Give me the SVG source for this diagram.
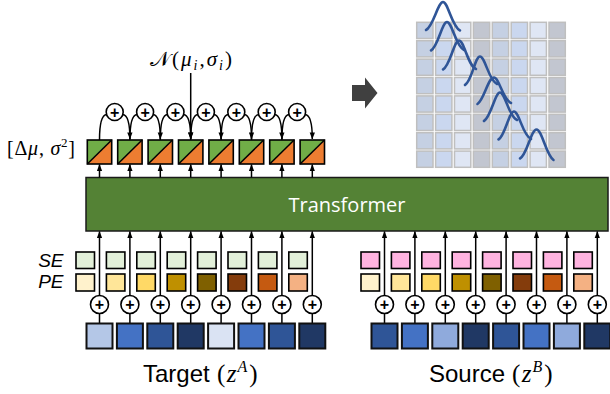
<svg xmlns="http://www.w3.org/2000/svg" xmlns:xlink="http://www.w3.org/1999/xlink" width="610" height="394" viewBox="0 0 610 394">
<style>
.ln{fill:none;stroke:#000;stroke-width:1.5}
.arr{fill:none;stroke:#000;stroke-width:1.5;marker-end:url(#ah)}
.bx{stroke:#000;stroke-width:1.6}
.bb{stroke:#111;stroke-width:2}
.cir{fill:#fff;stroke:#000;stroke-width:1.6}
.plus{font-family:"Liberation Sans",Arial,sans-serif;font-size:16px;font-weight:bold;text-anchor:middle;fill:#000}
.math{font-family:"Liberation Serif","DejaVu Serif",serif;fill:#000}
.sans{font-family:"Liberation Sans",Arial,sans-serif;fill:#000}
.gs{fill:none;stroke:#2F5597;stroke-width:2.6;stroke-linecap:round}
.cell{stroke:#BFBFBF;stroke-width:1.5}
.g0{fill:#C5D0E3}.g1{fill:#CAD7EF}.g2{fill:#DFE6F4}.g3{fill:#C2C6D0}
.se{fill:#E2F0D9}.sp{fill:#FFB3E0}
</style>
<defs>
<marker id="ah" viewBox="0 0 8 6" refX="7.5" refY="3" markerWidth="7" markerHeight="6" markerUnits="userSpaceOnUse" orient="auto"><path d="M0,0 L8,3 L0,6 z" fill="#000"/></marker>
<g id="gridrow">
<rect class="cell g0" x="416.7" y="0" width="16.3" height="16.2"/>
<rect class="cell g1" x="435.6" y="0" width="16.3" height="16.2"/>
<rect class="cell g2" x="454.5" y="0" width="16.3" height="16.2"/>
<rect class="cell g3" x="473.4" y="0" width="16.3" height="16.2"/>
<rect class="cell g0" x="492.3" y="0" width="16.3" height="16.2"/>
<rect class="cell g1" x="511.2" y="0" width="16.3" height="16.2"/>
<rect class="cell g2" x="530.1" y="0" width="16.3" height="16.2"/>
<rect class="cell g3" x="549.0" y="0" width="16.3" height="16.2"/>
</g>
</defs>

<!-- Transformer -->
<g id="transformer">
<rect x="86" y="177.5" width="522" height="53.5" fill="#548235" stroke="#1a1a1a" stroke-width="1.5"/>
<text x="347" y="211.5" font-family="'Open Sans','Noto Sans',sans-serif" font-size="20" fill="#fff" text-anchor="middle">Transformer</text>
</g>

<!-- connectors -->
<g id="connectors">
<path class="arr" d="M190.7,73 L190.7,139"/>
<path class="ln" d="M99.5,140 Q99.5,115 106.7,114.5"/>
<path class="arr" d="M122.7,114.5 Q129.9,115 129.9,139"/>
<path class="ln" d="M129.9,140 Q129.9,115 137.1,114.5"/>
<path class="arr" d="M153.1,114.5 Q160.3,115 160.3,139"/>
<path class="ln" d="M160.3,140 Q160.3,115 167.5,114.5"/>
<path class="arr" d="M183.5,114.5 Q190.7,115 190.7,139"/>
<path class="ln" d="M190.7,140 Q190.7,115 197.9,114.5"/>
<path class="arr" d="M213.9,114.5 Q221.1,115 221.1,139"/>
<path class="ln" d="M221.1,140 Q221.1,115 228.3,114.5"/>
<path class="arr" d="M244.3,114.5 Q251.5,115 251.5,139"/>
<path class="ln" d="M251.5,140 Q251.5,115 258.7,114.5"/>
<path class="arr" d="M274.7,114.5 Q281.9,115 281.9,139"/>
<path class="ln" d="M281.9,140 Q281.9,115 289.1,114.5"/>
<path class="arr" d="M305.1,114.5 Q312.3,115 312.3,139"/>
<path class="arr" d="M99.5,177.5 V164.5"/>
<path class="arr" d="M129.9,177.5 V164.5"/>
<path class="arr" d="M160.3,177.5 V164.5"/>
<path class="arr" d="M190.7,177.5 V164.5"/>
<path class="arr" d="M221.1,177.5 V164.5"/>
<path class="arr" d="M251.5,177.5 V164.5"/>
<path class="arr" d="M281.9,177.5 V164.5"/>
<path class="arr" d="M312.3,177.5 V164.5"/>
<path class="arr" d="M99.5,295.5 V231.5"/>
<path class="arr" d="M129.9,295.5 V231.5"/>
<path class="arr" d="M160.3,295.5 V231.5"/>
<path class="arr" d="M190.7,295.5 V231.5"/>
<path class="arr" d="M221.1,295.5 V231.5"/>
<path class="arr" d="M251.5,295.5 V231.5"/>
<path class="arr" d="M281.9,295.5 V231.5"/>
<path class="arr" d="M312.3,295.5 V231.5"/>
<path class="arr" d="M384.5,295.5 V231.5"/>
<path class="arr" d="M414.9,295.5 V231.5"/>
<path class="arr" d="M445.3,295.5 V231.5"/>
<path class="arr" d="M475.7,295.5 V231.5"/>
<path class="arr" d="M506.1,295.5 V231.5"/>
<path class="arr" d="M536.5,295.5 V231.5"/>
<path class="arr" d="M566.9,295.5 V231.5"/>
<path class="arr" d="M597.3,295.5 V231.5"/>
<path class="ln" d="M99.5,313 V323.5 M129.9,313 V323.5 M160.3,313 V323.5 M190.7,313 V323.5 M221.1,313 V323.5 M251.5,313 V323.5 M281.9,313 V323.5 M312.3,313 V323.5"/>
<path class="ln" d="M384.5,313 V323.5 M414.9,313 V323.5 M445.3,313 V323.5 M475.7,313 V323.5 M506.1,313 V323.5 M536.5,313 V323.5 M566.9,313 V323.5 M597.3,313 V323.5"/>
</g>

<!-- labels -->
<text class="math" x="150" y="66" font-size="21" textLength="82" lengthAdjust="spacing">𝒩(<tspan font-style="italic">μ</tspan><tspan font-size="14" font-style="italic" dy="4">i</tspan><tspan dy="-4">,</tspan><tspan font-style="italic">σ</tspan><tspan font-size="14" font-style="italic" dy="4">i</tspan><tspan dy="-4">)</tspan></text>
<text class="math" x="7" y="155" font-size="20" textLength="68" lengthAdjust="spacing">[Δ<tspan font-style="italic">μ</tspan>, <tspan font-style="italic">σ</tspan><tspan font-size="13" dy="-8">2</tspan><tspan dy="8">]</tspan></text>
<text class="sans" x="63.5" y="267" font-size="19" font-style="italic" text-anchor="end">SE</text>
<text class="sans" x="63.5" y="288" font-size="19" font-style="italic" text-anchor="end">PE</text>
<text class="sans" x="143" y="382" font-size="24">Target</text>
<text class="math" x="217" y="382" font-size="25">(<tspan font-style="italic" dx="1.5">z</tspan><tspan font-size="16" font-style="italic" dy="-10" dx="1">A</tspan><tspan dy="10" dx="2">)</tspan></text>
<text class="sans" x="429" y="382" font-size="24">Source</text>
<text class="math" x="512" y="382" font-size="25">(<tspan font-style="italic" dx="1.5">z</tspan><tspan font-size="16" font-style="italic" dy="-10" dx="1">B</tspan><tspan dy="10" dx="2">)</tspan></text>

<!-- top summation nodes -->
<g id="acc-1"><circle class="cir" cx="114.7" cy="112" r="8.5"/><text class="plus" x="114.7" y="117.6">+</text></g>
<g id="acc-2"><circle class="cir" cx="145.1" cy="112" r="8.5"/><text class="plus" x="145.1" y="117.6">+</text></g>
<g id="acc-3"><circle class="cir" cx="175.5" cy="112" r="8.5"/><text class="plus" x="175.5" y="117.6">+</text></g>
<g id="acc-4"><circle class="cir" cx="205.9" cy="112" r="8.5"/><text class="plus" x="205.9" y="117.6">+</text></g>
<g id="acc-5"><circle class="cir" cx="236.3" cy="112" r="8.5"/><text class="plus" x="236.3" y="117.6">+</text></g>
<g id="acc-6"><circle class="cir" cx="266.7" cy="112" r="8.5"/><text class="plus" x="266.7" y="117.6">+</text></g>
<g id="acc-7"><circle class="cir" cx="297.1" cy="112" r="8.5"/><text class="plus" x="297.1" y="117.6">+</text></g>

<!-- output boxes -->
<g id="out-1"><polygon points="87.3,140 111.7,140 87.3,164" fill="#70AD47"/><polygon points="111.7,140 111.7,164 87.3,164" fill="#ED7D31"/><rect class="bx" x="87.3" y="140" width="24.4" height="24" fill="none"/><path class="ln" d="M87.3,164 L111.7,140" stroke-width="2"/></g>
<g id="out-2"><polygon points="117.7,140 142.1,140 117.7,164" fill="#70AD47"/><polygon points="142.1,140 142.1,164 117.7,164" fill="#ED7D31"/><rect class="bx" x="117.7" y="140" width="24.4" height="24" fill="none"/><path class="ln" d="M117.7,164 L142.1,140" stroke-width="2"/></g>
<g id="out-3"><polygon points="148.1,140 172.5,140 148.1,164" fill="#70AD47"/><polygon points="172.5,140 172.5,164 148.1,164" fill="#ED7D31"/><rect class="bx" x="148.1" y="140" width="24.4" height="24" fill="none"/><path class="ln" d="M148.1,164 L172.5,140" stroke-width="2"/></g>
<g id="out-4"><polygon points="178.5,140 202.9,140 178.5,164" fill="#70AD47"/><polygon points="202.9,140 202.9,164 178.5,164" fill="#ED7D31"/><rect class="bx" x="178.5" y="140" width="24.4" height="24" fill="none"/><path class="ln" d="M178.5,164 L202.9,140" stroke-width="2"/></g>
<g id="out-5"><polygon points="208.9,140 233.3,140 208.9,164" fill="#70AD47"/><polygon points="233.3,140 233.3,164 208.9,164" fill="#ED7D31"/><rect class="bx" x="208.9" y="140" width="24.4" height="24" fill="none"/><path class="ln" d="M208.9,164 L233.3,140" stroke-width="2"/></g>
<g id="out-6"><polygon points="239.3,140 263.7,140 239.3,164" fill="#70AD47"/><polygon points="263.7,140 263.7,164 239.3,164" fill="#ED7D31"/><rect class="bx" x="239.3" y="140" width="24.4" height="24" fill="none"/><path class="ln" d="M239.3,164 L263.7,140" stroke-width="2"/></g>
<g id="out-7"><polygon points="269.7,140 294.1,140 269.7,164" fill="#70AD47"/><polygon points="294.1,140 294.1,164 269.7,164" fill="#ED7D31"/><rect class="bx" x="269.7" y="140" width="24.4" height="24" fill="none"/><path class="ln" d="M269.7,164 L294.1,140" stroke-width="2"/></g>
<g id="out-8"><polygon points="300.1,140 324.5,140 300.1,164" fill="#70AD47"/><polygon points="324.5,140 324.5,164 300.1,164" fill="#ED7D31"/><rect class="bx" x="300.1" y="140" width="24.4" height="24" fill="none"/><path class="ln" d="M300.1,164 L324.5,140" stroke-width="2"/></g>

<!-- target embeddings -->
<g id="target-se">
<rect class="bx se" x="76" y="252" width="18.5" height="16.5"/>
<rect class="bx se" x="106.4" y="252" width="18.5" height="16.5"/>
<rect class="bx se" x="136.8" y="252" width="18.5" height="16.5"/>
<rect class="bx se" x="167.2" y="252" width="18.5" height="16.5"/>
<rect class="bx se" x="197.6" y="252" width="18.5" height="16.5"/>
<rect class="bx se" x="228" y="252" width="18.5" height="16.5"/>
<rect class="bx se" x="258.4" y="252" width="18.5" height="16.5"/>
<rect class="bx se" x="288.8" y="252" width="18.5" height="16.5"/>
</g>
<g id="target-pe">
<rect class="bx" fill="#FFF2CC" x="76" y="274" width="18.5" height="17"/>
<rect class="bx" fill="#FFE699" x="106.4" y="274" width="18.5" height="17"/>
<rect class="bx" fill="#FFD966" x="136.8" y="274" width="18.5" height="17"/>
<rect class="bx" fill="#BF9000" x="167.2" y="274" width="18.5" height="17"/>
<rect class="bx" fill="#7F6000" x="197.6" y="274" width="18.5" height="17"/>
<rect class="bx" fill="#843C0C" x="228" y="274" width="18.5" height="17"/>
<rect class="bx" fill="#C55A11" x="258.4" y="274" width="18.5" height="17"/>
<rect class="bx" fill="#F4B183" x="288.8" y="274" width="18.5" height="17"/>
</g>
<g id="source-se">
<rect class="bx sp" x="361" y="252" width="18.5" height="16.5"/>
<rect class="bx sp" x="391.4" y="252" width="18.5" height="16.5"/>
<rect class="bx sp" x="421.8" y="252" width="18.5" height="16.5"/>
<rect class="bx sp" x="452.2" y="252" width="18.5" height="16.5"/>
<rect class="bx sp" x="482.6" y="252" width="18.5" height="16.5"/>
<rect class="bx sp" x="513" y="252" width="18.5" height="16.5"/>
<rect class="bx sp" x="543.4" y="252" width="18.5" height="16.5"/>
<rect class="bx sp" x="573.8" y="252" width="18.5" height="16.5"/>
</g>
<g id="source-pe">
<rect class="bx" fill="#FFF2CC" x="361" y="274" width="18.5" height="17"/>
<rect class="bx" fill="#FFE699" x="391.4" y="274" width="18.5" height="17"/>
<rect class="bx" fill="#FFD966" x="421.8" y="274" width="18.5" height="17"/>
<rect class="bx" fill="#BF9000" x="452.2" y="274" width="18.5" height="17"/>
<rect class="bx" fill="#7F6000" x="482.6" y="274" width="18.5" height="17"/>
<rect class="bx" fill="#843C0C" x="513" y="274" width="18.5" height="17"/>
<rect class="bx" fill="#C55A11" x="543.4" y="274" width="18.5" height="17"/>
<rect class="bx" fill="#F4B183" x="573.8" y="274" width="18.5" height="17"/>
</g>

<!-- bottom summation nodes -->
<g id="sum-t1"><circle class="cir" cx="99.5" cy="304.5" r="9"/><text class="plus" x="99.5" y="310.1">+</text></g>
<g id="sum-t2"><circle class="cir" cx="129.9" cy="304.5" r="9"/><text class="plus" x="129.9" y="310.1">+</text></g>
<g id="sum-t3"><circle class="cir" cx="160.3" cy="304.5" r="9"/><text class="plus" x="160.3" y="310.1">+</text></g>
<g id="sum-t4"><circle class="cir" cx="190.7" cy="304.5" r="9"/><text class="plus" x="190.7" y="310.1">+</text></g>
<g id="sum-t5"><circle class="cir" cx="221.1" cy="304.5" r="9"/><text class="plus" x="221.1" y="310.1">+</text></g>
<g id="sum-t6"><circle class="cir" cx="251.5" cy="304.5" r="9"/><text class="plus" x="251.5" y="310.1">+</text></g>
<g id="sum-t7"><circle class="cir" cx="281.9" cy="304.5" r="9"/><text class="plus" x="281.9" y="310.1">+</text></g>
<g id="sum-t8"><circle class="cir" cx="312.3" cy="304.5" r="9"/><text class="plus" x="312.3" y="310.1">+</text></g>
<g id="sum-s1"><circle class="cir" cx="384.5" cy="304.5" r="9"/><text class="plus" x="384.5" y="310.1">+</text></g>
<g id="sum-s2"><circle class="cir" cx="414.9" cy="304.5" r="9"/><text class="plus" x="414.9" y="310.1">+</text></g>
<g id="sum-s3"><circle class="cir" cx="445.3" cy="304.5" r="9"/><text class="plus" x="445.3" y="310.1">+</text></g>
<g id="sum-s4"><circle class="cir" cx="475.7" cy="304.5" r="9"/><text class="plus" x="475.7" y="310.1">+</text></g>
<g id="sum-s5"><circle class="cir" cx="506.1" cy="304.5" r="9"/><text class="plus" x="506.1" y="310.1">+</text></g>
<g id="sum-s6"><circle class="cir" cx="536.5" cy="304.5" r="9"/><text class="plus" x="536.5" y="310.1">+</text></g>
<g id="sum-s7"><circle class="cir" cx="566.9" cy="304.5" r="9"/><text class="plus" x="566.9" y="310.1">+</text></g>
<g id="sum-s8"><circle class="cir" cx="597.3" cy="304.5" r="9"/><text class="plus" x="597.3" y="310.1">+</text></g>

<!-- tokens -->
<g id="target-tokens">
<rect class="bb" fill="#B4C7E7" x="86.5" y="323.5" width="26" height="25"/>
<rect class="bb" fill="#4472C4" x="116.9" y="323.5" width="26" height="25"/>
<rect class="bb" fill="#2F5597" x="147.3" y="323.5" width="26" height="25"/>
<rect class="bb" fill="#203864" x="177.7" y="323.5" width="26" height="25"/>
<rect class="bb" fill="#DAE3F3" x="208.1" y="323.5" width="26" height="25"/>
<rect class="bb" fill="#4472C4" x="238.5" y="323.5" width="26" height="25"/>
<rect class="bb" fill="#2F5597" x="268.9" y="323.5" width="26" height="25"/>
<rect class="bb" fill="#203864" x="299.3" y="323.5" width="26" height="25"/>
</g>
<g id="source-tokens">
<rect class="bb" fill="#2F5597" x="371.5" y="323.5" width="26" height="25"/>
<rect class="bb" fill="#4472C4" x="401.9" y="323.5" width="26" height="25"/>
<rect class="bb" fill="#8FAADC" x="432.3" y="323.5" width="26" height="25"/>
<rect class="bb" fill="#203864" x="462.7" y="323.5" width="26" height="25"/>
<rect class="bb" fill="#2F5597" x="493.1" y="323.5" width="26" height="25"/>
<rect class="bb" fill="#4472C4" x="523.5" y="323.5" width="26" height="25"/>
<rect class="bb" fill="#8FAADC" x="553.9" y="323.5" width="26" height="25"/>
<rect class="bb" fill="#203864" x="584.3" y="323.5" width="26" height="25"/>
</g>

<!-- block arrow -->
<g id="result-arrow"><polygon points="352,85 365,85 365,77.5 377.5,93 365,108.5 365,101 352,101" fill="#404040"/></g>

<!-- alignment grid with gaussians -->
<g id="alignment-grid">
<use xlink:href="#gridrow" y="22.3"/>
<use xlink:href="#gridrow" y="40.7"/>
<use xlink:href="#gridrow" y="59.1"/>
<use xlink:href="#gridrow" y="77.5"/>
<use xlink:href="#gridrow" y="95.9"/>
<use xlink:href="#gridrow" y="114.3"/>
<use xlink:href="#gridrow" y="132.7"/>
<use xlink:href="#gridrow" y="151.1"/>
<path class="gs" d="M426,30 C433,27 438,2 443,2 C448,2 452,27 460,30.5"/>
<path class="gs" d="M431,50.5 C438,47 442,22 447,22 C452,22 456,47 464,50"/>
<path class="gs" d="M443,69.5 C450,66 454,40.5 459,40.5 C464,40.5 468,66 476,69"/>
<path class="gs" d="M465,85 C472,81 475,56.5 480,56.5 C485,56.5 489,81 497,84"/>
<path class="gs" d="M477.5,104 C484,100 488,77.5 494,77.5 C499,77.5 503,100 511,103"/>
<path class="gs" d="M484,121 C491,117 495,92.5 500,92.5 C505,92.5 509,117 517,120"/>
<path class="gs" d="M498.5,139.5 C505,136 509,111.5 514,111.5 C519,111.5 523,136 531,139"/>
<path class="gs" d="M520,158.5 C527,155 531,129.5 536.5,129.5 C542,129.5 546,155 553.5,160"/>
</g>
</svg>
